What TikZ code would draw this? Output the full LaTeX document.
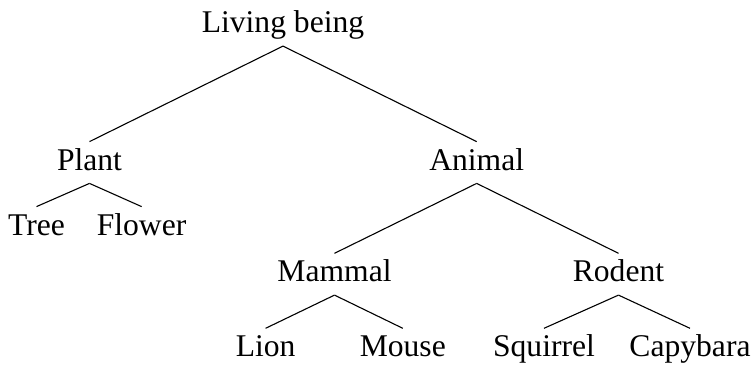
\documentclass[tikz,border=0pt]{standalone}
\usepackage{fontspec}
\setmainfont{Liberation Serif}
\tikzset{
  word/.style={anchor=base, inner xsep=0pt, inner ysep=3.5pt,
               text height=10.5pt, text depth=3pt,
               font=\fontsize{15.8}{19}\selectfont},
  edge/.style={line width=0.55pt, draw=black},
}

\begin{document}
\begin{tikzpicture}[x=0.5pt, y=-0.5pt]
  \useasboundingbox (0,0) rectangle (751,366);
  % levels of the tree, by baseline
  \node[word] (root)     at (283,32.7)   {Living being};
  \node[word] (plant)    at (89.5,170)   {Plant};
  \node[word] (animal)   at (476.7,170)  {Animal};
  \node[word] (tree)     at (36.5,235)   {Tree};
  \node[word] (flower)   at (141.6,235)  {Flower};
  \node[word] (mammal)   at (334.5,281.7) {Mammal};
  \node[word] (rodent)   at (618.5,281.7) {Rodent};
  \node[word] (lion)     at (265.6,356.7) {Lion};
  \node[word] (mouse)    at (402.8,356.7) {Mouse};
  \node[word] (squirrel) at (544,356.7)   {Squirrel};
  \node[word] (capybara) at (690,356.7)   {Capybara};
  % branches
  \foreach \p/\c in {root/plant, root/animal, plant/tree, plant/flower,
                     animal/mammal, animal/rodent, mammal/lion, mammal/mouse,
                     rodent/squirrel, rodent/capybara}
    \draw[edge] (\p.south) -- (\c.north);
\end{tikzpicture}
\end{document}
